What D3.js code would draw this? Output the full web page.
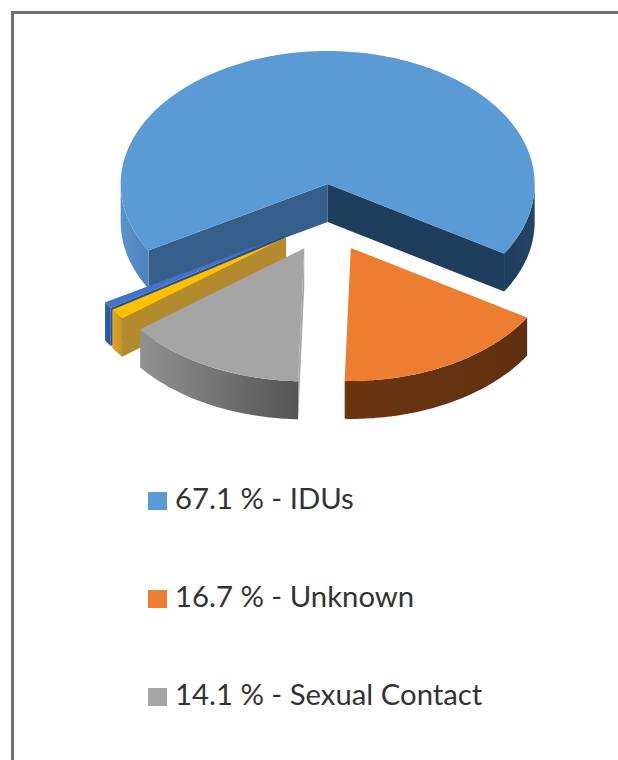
<!DOCTYPE html>
<html>
<head>
<meta charset="utf-8">
<style>
  html, body { margin: 0; padding: 0; background: #fff; }
  svg { display: block; }
  .legend-text { font-family: Lato, "Open Sans", sans-serif; font-size: 29.3px; fill: #333; }
</style>
<script src="https://cdn.jsdelivr.net/npm/d3@7"></script>
</head>
<body>
<div id="chart"></div>
<script>
// values, the last two slices have no legend entry
var categories = ["IDUs", "Unknown", "Sexual Contact", "Other 1", "Other 2"];
var shares = [67.1, 16.7, 14.1, 1.3, 0.8];
var legendCount = 3;

var topColors = ["#5b9bd5", "#ed7d31", "#a5a5a5", "#ffc000", "#4472c4"];
var wallColors = [
  ["#5a93cf", "#4474a6", "#1f3c59", "#234466"],
  ["#6b3610", "#5f3011"],
  ["#919191", "#545454"],
  ["#dca72a", "#c4952c"],
  ["#2f5ba6", "#2c5699"]
];
var faceStartColors = ["#355f8a", "#63320f", "#a5a5a5", "#b38a2d", "#2a4f8f"];
var faceEndColors = ["#1f3d5c", "#63320f", "#6a6a6a", "#b38a2d", "#2a4f8f"];

// back to front, slices are painted in this order
var drawOrder = [0, 4, 3, 2, 1];

var width = 618, height = 760;
var cx = 327, cy = 218, rx = 207, ry = 133, depth = 38;
var explodeX = 50, explodeY = 34;
var toRad = Math.PI / 180;

var svg = d3.select("#chart").append("svg")
  .attr("width", width)
  .attr("height", height);

var defs = svg.append("defs");

// frame, only top and left show up in the picture
svg.append("path")
  .attr("d", "M12.5," + height + "V12.5H" + width)
  .attr("fill", "none")
  .attr("stroke", "#6e6e6e")
  .attr("stroke-width", 3);

var pie = d3.pie()
  .sort(null)
  .startAngle(-120 * toRad)
  .endAngle(240 * toRad);

var slices = pie(shares);

function project(angle) {
  return [rx * Math.sin(angle), -ry * Math.cos(angle)];
}

function arcPoints(a0, a1) {
  var n = Math.max(2, Math.ceil(Math.abs(a1 - a0) / (1 * toRad)));
  return d3.range(n + 1).map(function(i) {
    return project(a0 + (a1 - a0) * i / n);
  });
}

var line = d3.line();

function shifted(points) {
  return points.map(function(p) { return [p[0], p[1] + depth]; });
}

// the part of the rim that faces the viewer, angle runs 90 to 270 degrees
function wallParts(d) {
  var parts = [];
  [-2, 0, 2].forEach(function(turn) {
    var lo = Math.max(d.startAngle, Math.PI / 2 + turn * Math.PI);
    var hi = Math.min(d.endAngle, 3 * Math.PI / 2 + turn * Math.PI);
    if (hi > lo) parts.push([lo, hi]);
  });
  return parts;
}

var groups = svg.append("g").selectAll("g")
  .data(drawOrder.map(function(i) { return slices[i]; }))
  .enter()
  .append("g")
  .attr("transform", function(d) {
    var mid = (d.startAngle + d.endAngle) / 2;
    return "translate(" + (cx + explodeX * Math.sin(mid)) + "," + (cy - explodeY * Math.cos(mid)) + ")";
  });

groups.each(function(d) {
  var g = d3.select(this);
  var i = d.index;
  var gradId = "wall-" + i;

  var stops = wallColors[i];
  var gradient = defs.append("linearGradient")
    .attr("id", gradId)
    .attr("x1", "0%").attr("x2", "100%")
    .attr("y1", "0%").attr("y2", "0%");

  gradient.selectAll("stop")
    .data(stops)
    .enter()
    .append("stop")
    .attr("offset", function(c, k) {
      if (stops.length === 4) return [0, 0.12, 0.9, 1][k];
      return k / (stops.length - 1);
    })
    .attr("stop-color", function(c) { return c; });

  // radial cut faces
  if (Math.sin(d.startAngle) < 0) {
    var s = project(d.startAngle);
    g.append("path")
      .attr("d", line([[0, 0], s, [s[0], s[1] + depth], [0, depth]]) + "Z")
      .attr("fill", faceStartColors[i]);
  }
  if (Math.sin(d.endAngle) > 0) {
    var e = project(d.endAngle);
    g.append("path")
      .attr("d", line([[0, 0], e, [e[0], e[1] + depth], [0, depth]]) + "Z")
      .attr("fill", faceEndColors[i]);
  }

  // outer wall, the big slice needs one gradient over both of its pieces
  var parts = wallParts(d);
  var wallD = parts.map(function(p) {
    var rim = arcPoints(p[0], p[1]);
    return line(rim.concat(shifted(rim).reverse())) + "Z";
  }).join("");

  if (wallD) {
    g.append("path")
      .attr("d", wallD)
      .attr("fill", "url(#" + gradId + ")");
  }

  // top of the slice
  g.append("path")
    .attr("d", line([[0, 0]].concat(arcPoints(d.startAngle, d.endAngle))) + "Z")
    .attr("fill", topColors[i]);
});

// legend
var legendY = d3.scalePoint()
  .domain(categories.slice(0, legendCount))
  .range([509, 705]);

var legend = svg.append("g").selectAll("g")
  .data(categories.slice(0, legendCount))
  .enter()
  .append("g")
  .attr("transform", function(d) { return "translate(148," + legendY(d) + ")"; });

legend.append("rect")
  .attr("x", 0)
  .attr("y", -17)
  .attr("width", 19)
  .attr("height", 18)
  .attr("fill", function(d, i) { return topColors[i]; });

legend.append("text")
  .attr("class", "legend-text")
  .attr("x", 27)
  .attr("y", 0)
  .text(function(d, i) { return shares[i].toFixed(1) + " % - " + d; });
</script>
</body>
</html>
